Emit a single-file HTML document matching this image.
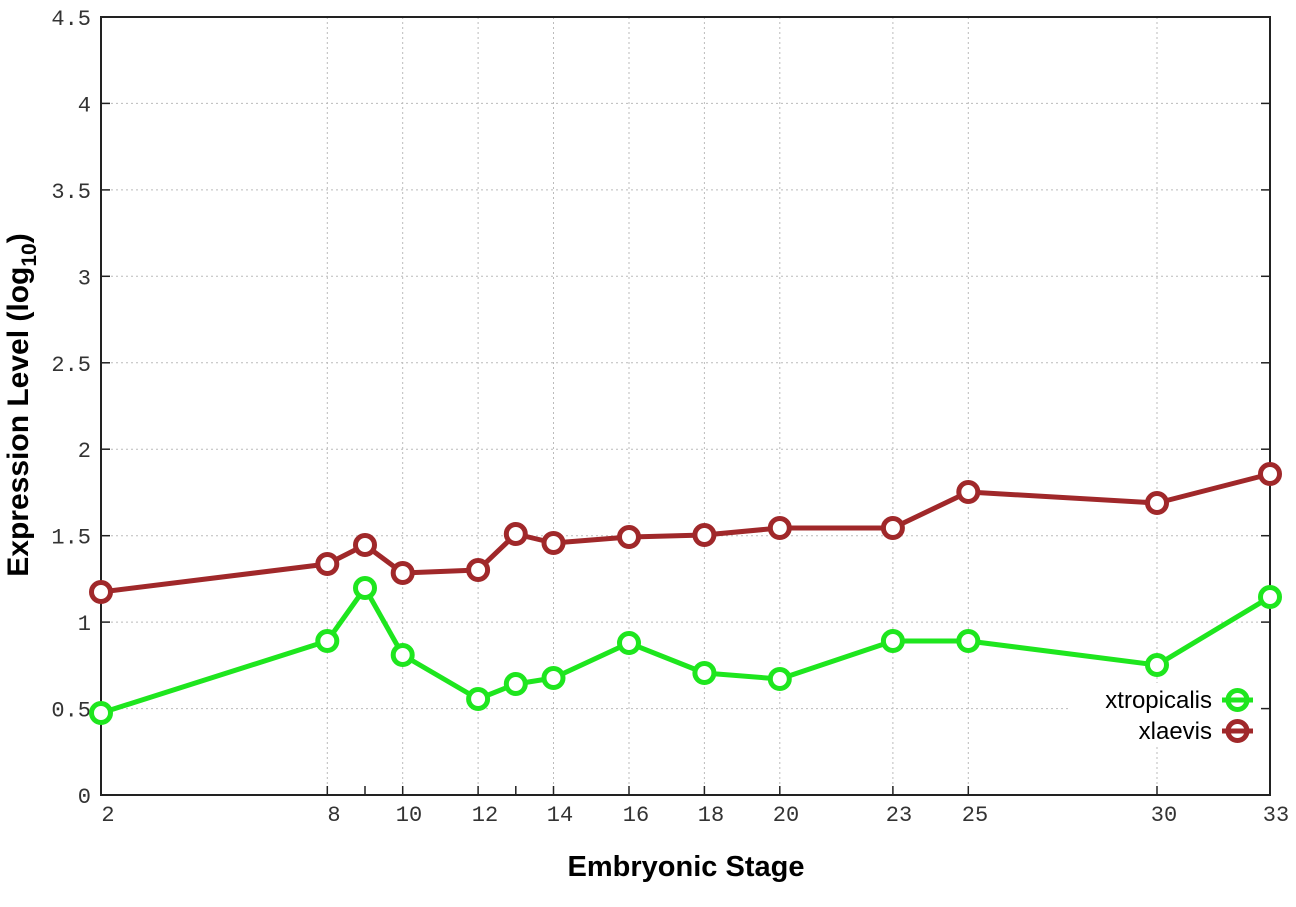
<!DOCTYPE html>
<html><head><meta charset="utf-8"><style>
html,body{margin:0;padding:0;background:#fff;}
svg{display:block;}
.tk{font-family:"Liberation Mono",monospace;font-size:22px;fill:#333;}
.grid{stroke:#bbb;stroke-width:1;stroke-dasharray:2,3;}
</style></head><body>
<svg width="1296" height="907" xmlns="http://www.w3.org/2000/svg">
<g class="grid">
<line x1="101" y1="708.6" x2="1270" y2="708.6"/>
<line x1="101" y1="622.1" x2="1270" y2="622.1"/>
<line x1="101" y1="535.7" x2="1270" y2="535.7"/>
<line x1="101" y1="449.2" x2="1270" y2="449.2"/>
<line x1="101" y1="362.8" x2="1270" y2="362.8"/>
<line x1="101" y1="276.3" x2="1270" y2="276.3"/>
<line x1="101" y1="189.9" x2="1270" y2="189.9"/>
<line x1="101" y1="103.4" x2="1270" y2="103.4"/>
<line x1="327.3" y1="17" x2="327.3" y2="795"/>
<line x1="402.7" y1="17" x2="402.7" y2="795"/>
<line x1="478.1" y1="17" x2="478.1" y2="795"/>
<line x1="553.5" y1="17" x2="553.5" y2="795"/>
<line x1="629" y1="17" x2="629" y2="795"/>
<line x1="704.4" y1="17" x2="704.4" y2="795"/>
<line x1="779.8" y1="17" x2="779.8" y2="795"/>
<line x1="892.9" y1="17" x2="892.9" y2="795"/>
<line x1="968.3" y1="17" x2="968.3" y2="795"/>
<line x1="1157" y1="17" x2="1157" y2="795"/>
</g>
<rect x="1071" y="683" width="195" height="64" fill="#fff"/>
<rect x="101" y="17" width="1169" height="778" fill="none" stroke="#222" stroke-width="2"/>
<g stroke="#222" stroke-width="1.5">
<line x1="101" y1="708.6" x2="110" y2="708.6"/><line x1="1261" y1="708.6" x2="1270" y2="708.6"/>
<line x1="101" y1="622.1" x2="110" y2="622.1"/><line x1="1261" y1="622.1" x2="1270" y2="622.1"/>
<line x1="101" y1="535.7" x2="110" y2="535.7"/><line x1="1261" y1="535.7" x2="1270" y2="535.7"/>
<line x1="101" y1="449.2" x2="110" y2="449.2"/><line x1="1261" y1="449.2" x2="1270" y2="449.2"/>
<line x1="101" y1="362.8" x2="110" y2="362.8"/><line x1="1261" y1="362.8" x2="1270" y2="362.8"/>
<line x1="101" y1="276.3" x2="110" y2="276.3"/><line x1="1261" y1="276.3" x2="1270" y2="276.3"/>
<line x1="101" y1="189.9" x2="110" y2="189.9"/><line x1="1261" y1="189.9" x2="1270" y2="189.9"/>
<line x1="101" y1="103.4" x2="110" y2="103.4"/><line x1="1261" y1="103.4" x2="1270" y2="103.4"/>
<line x1="327.3" y1="795" x2="327.3" y2="786"/><line x1="365" y1="795" x2="365" y2="786"/>
<line x1="402.7" y1="795" x2="402.7" y2="786"/><line x1="478.1" y1="795" x2="478.1" y2="786"/>
<line x1="515.8" y1="795" x2="515.8" y2="786"/><line x1="553.5" y1="795" x2="553.5" y2="786"/>
<line x1="629" y1="795" x2="629" y2="786"/><line x1="704.4" y1="795" x2="704.4" y2="786"/>
<line x1="779.8" y1="795" x2="779.8" y2="786"/><line x1="892.9" y1="795" x2="892.9" y2="786"/>
<line x1="968.3" y1="795" x2="968.3" y2="786"/><line x1="1157" y1="795" x2="1157" y2="786"/>
</g>
<g class="tk" text-anchor="end">
<text x="91" y="803">0</text>
<text x="91" y="716.6">0.5</text>
<text x="91" y="630.1">1</text>
<text x="91" y="543.7">1.5</text>
<text x="91" y="457.2">2</text>
<text x="91" y="370.8">2.5</text>
<text x="91" y="284.3">3</text>
<text x="91" y="197.9">3.5</text>
<text x="91" y="111.4">4</text>
<text x="91" y="25">4.5</text>
</g>
<g class="tk" text-anchor="middle">
<text x="108" y="821">2</text>
<text x="334" y="821">8</text>
<text x="409" y="821">10</text>
<text x="485" y="821">12</text>
<text x="560" y="821">14</text>
<text x="636" y="821">16</text>
<text x="711" y="821">18</text>
<text x="786" y="821">20</text>
<text x="899" y="821">23</text>
<text x="975" y="821">25</text>
<text x="1164" y="821">30</text>
<text x="1276" y="821">33</text>
</g>
<text x="686" y="876" text-anchor="middle" font-family="Liberation Sans,sans-serif" font-weight="bold" font-size="29" fill="#000">Embryonic Stage</text>
<text transform="translate(28,405) rotate(-90)" text-anchor="middle" font-family="Liberation Sans,sans-serif" font-weight="bold" font-size="30" fill="#000">Expression Level (log<tspan font-size="21" dy="8">10</tspan><tspan dy="-8">)</tspan></text>
<g fill="none" stroke-width="5" stroke-linejoin="round">
<polyline stroke="#a0282a" points="101,592 327.3,564 365,545 402.7,573 478.1,570 515.8,534 553.5,543 629,537 704.4,535 779.8,528 892.9,528 968.3,492 1157,503 1270,474"/>
<g stroke="#a0282a" fill="#fff">
<circle cx="101" cy="592" r="9.5"/><circle cx="327.3" cy="564" r="9.5"/><circle cx="365" cy="545" r="9.5"/><circle cx="402.7" cy="573" r="9.5"/><circle cx="478.1" cy="570" r="9.5"/><circle cx="515.8" cy="534" r="9.5"/><circle cx="553.5" cy="543" r="9.5"/><circle cx="629" cy="537" r="9.5"/><circle cx="704.4" cy="535" r="9.5"/><circle cx="779.8" cy="528" r="9.5"/><circle cx="892.9" cy="528" r="9.5"/><circle cx="968.3" cy="492" r="9.5"/><circle cx="1157" cy="503" r="9.5"/><circle cx="1270" cy="474" r="9.5"/>
</g>
<polyline stroke="#1ee61e" points="101,713 327.3,641 365,588 402.7,655 478.1,699 515.8,684 553.5,678 629,643 704.4,673 779.8,679 892.9,641 968.3,641 1157,665 1270,597"/>
<g stroke="#1ee61e" fill="#fff">
<circle cx="101" cy="713" r="9.5"/><circle cx="327.3" cy="641" r="9.5"/><circle cx="365" cy="588" r="9.5"/><circle cx="402.7" cy="655" r="9.5"/><circle cx="478.1" cy="699" r="9.5"/><circle cx="515.8" cy="684" r="9.5"/><circle cx="553.5" cy="678" r="9.5"/><circle cx="629" cy="643" r="9.5"/><circle cx="704.4" cy="673" r="9.5"/><circle cx="779.8" cy="679" r="9.5"/><circle cx="892.9" cy="641" r="9.5"/><circle cx="968.3" cy="641" r="9.5"/><circle cx="1157" cy="665" r="9.5"/><circle cx="1270" cy="597" r="9.5"/>
</g>
<line x1="1222" y1="700" x2="1253" y2="700" stroke="#1ee61e"/>
<circle cx="1237.5" cy="700" r="9.5" stroke="#1ee61e"/>
<line x1="1222" y1="731" x2="1253" y2="731" stroke="#a0282a"/>
<circle cx="1237.5" cy="731" r="9.5" stroke="#a0282a"/>
</g>
<g font-family="Liberation Sans,sans-serif" font-size="24" fill="#000" text-anchor="end">
<text x="1212" y="708">xtropicalis</text>
<text x="1212" y="739">xlaevis</text>
</g>
</svg>
</body></html>
